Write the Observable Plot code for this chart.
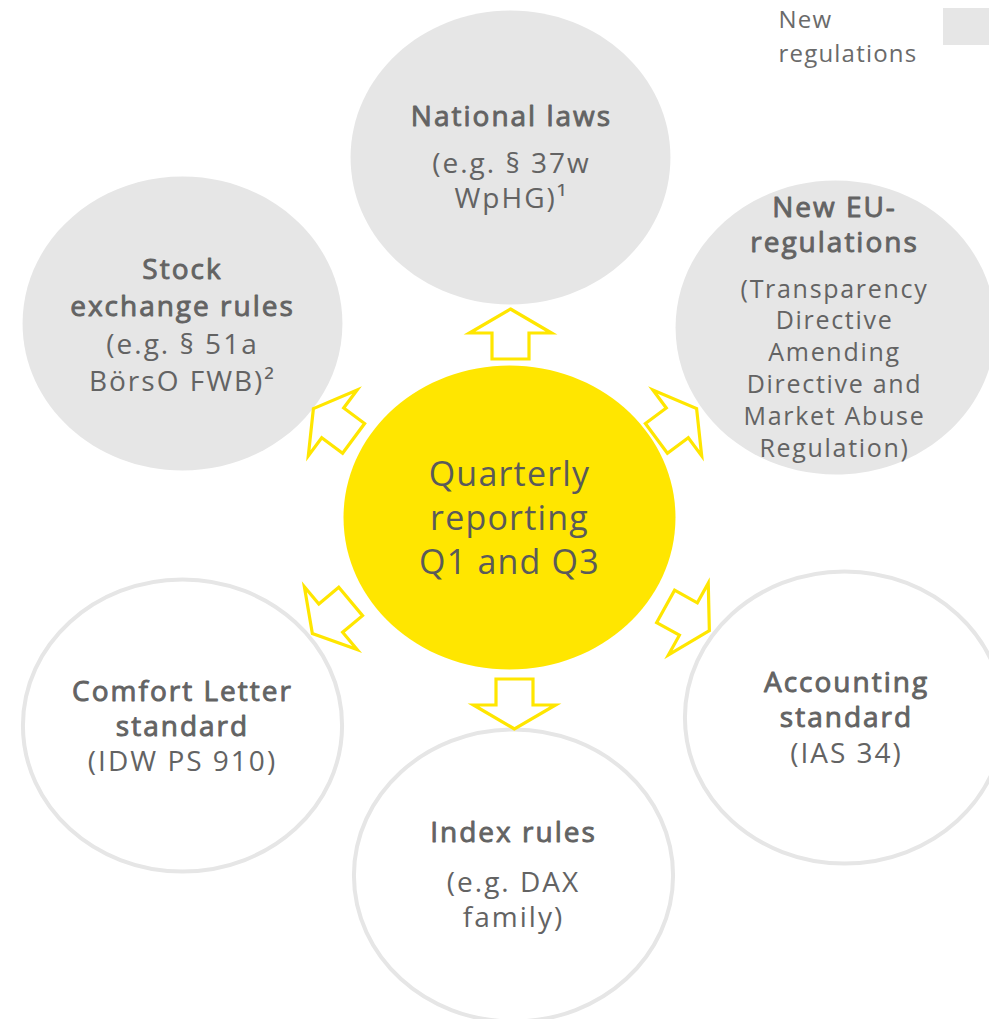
<!DOCTYPE html>
<html><head><meta charset="utf-8">
<script src="https://cdn.jsdelivr.net/npm/d3@7"></script>
<script src="https://cdn.jsdelivr.net/npm/@observablehq/plot@0.6"></script>
<style>
body{margin:0;background:#fff;}
.lbl text{letter-spacing:2px;}
.lbl-sm text{letter-spacing:1.7px;}
.core text{letter-spacing:1.2px;}
.leg text{letter-spacing:1.2px;}
</style>
</head><body><div id="chart"></div>
<script>
// ---- content ----
const nodeNames = ["National laws","Stock exchange rules","New EU-regulations","Quarterly reporting","Comfort Letter standard","Accounting standard","Index rules"];
const nodeKind  = ["new","new","new","core","existing","existing","existing"];
const titles  = ["National laws","Stock\nexchange rules","New EU-\nregulations","Quarterly\nreporting\nQ1 and Q3","Comfort Letter\nstandard","Accounting\nstandard","Index rules"];
const details = ["(e.g. § 37w\nWpHG)¹","(e.g. § 51a\nBörsO FWB)²","(Transparency\nDirective\nAmending\nDirective and\nMarket Abuse\nRegulation)","","(IDW PS 910)","(IAS 34)","(e.g. DAX\nfamily)"];
const legendLabel = "New\nregulations";

// ---- layout (pixel space) ----
const nodeX = [510,182,835,509,182,844,513];
const nodeY = [157,323,327,517,725,717,875];
const textX = [511,182,834,509,182,846,513];
const titleY = [117,288,225.5,519,709,700.5,833];
const titleGap = [35,37.5,35,44,34.5,35,32];
const detailY = [181.5,363.5,368.5,0,762,754,900];
const detailGap = [35,37,31.8,0,33,33,35.5];
const detailSmall = [false,false,true,false,false,false,false];

const arrowX = [510,333,676,331,687,514];
const arrowY = [333.5,423,423,617,618,703.5];
const arrowAngle = [0,-53.5,53.5,-130,119,180];

const W = 989, H = 1019;
const nodes = nodeNames.map((n,i)=>({name:n, kind:nodeKind[i], x:nodeX[i], y:nodeY[i]}));
const arrows = arrowX.map((x,i)=>({x, y:arrowY[i], a:arrowAngle[i]}));

function lines(textArr, yArr, gapArr){
  const out = [];
  textArr.forEach((t,i)=>{
    if(!t) return;
    const ls = t.split("\n");
    ls.forEach((l,j)=>out.push({text:l, x:textX[i], y:yArr[i] + (j-(ls.length-1)/2)*gapArr[i], kind:nodeKind[i], small:detailSmall[i]}));
  });
  return out;
}
const titleLines = lines(titles, titleY, titleGap);
const detailLines = lines(details, detailY, detailGap);

function ellipseSymbol(ratio){
  return {draw(ctx, size){
    const ry = Math.sqrt(size/Math.PI), rx = ry*ratio, k = 0.5523;
    ctx.moveTo(rx,0);
    ctx.bezierCurveTo(rx, ry*k, rx*k, ry, 0, ry);
    ctx.bezierCurveTo(-rx*k, ry, -rx, ry*k, -rx, 0);
    ctx.bezierCurveTo(-rx, -ry*k, -rx*k, -ry, 0, -ry);
    ctx.bezierCurveTo(rx*k, -ry, rx, -ry*k, rx, 0);
    ctx.closePath();
  }};
}
const arrowSymbol = {draw(ctx){
  const L=50, Hh=24, Wd=41, S=18.5, t=-L/2, b=L/2, hb=t+Hh;
  ctx.moveTo(0,t); ctx.lineTo(Wd,hb); ctx.lineTo(S,hb); ctx.lineTo(S,b);
  ctx.lineTo(-S,b); ctx.lineTo(-S,hb); ctx.lineTo(-Wd,hb); ctx.closePath();
}};

const FONT = "Open Sans";
const TXT = "#636363";
const plot = Plot.plot({
  width: W, height: H, margin: 0,
  x: {domain:[0,W], axis:null},
  y: {domain:[0,H], reverse:true, axis:null},
  style: {fontFamily: FONT, background:"#fff"},
  marks: [
    Plot.dot(nodes.filter(d=>d.kind==="new"), {x:"x", y:"y", r:147, symbol: ellipseSymbol(1.088), fill:"#e6e6e6", stroke:"none"}),
    Plot.dot(nodes.filter(d=>d.kind==="existing"), {x:"x", y:"y", r:146, symbol: ellipseSymbol(1.093), fill:"none", stroke:"#e6e6e6", strokeWidth:4}),
    Plot.dot(nodes.filter(d=>d.kind==="core"), {x:"x", y:"y", r:152, symbol: ellipseSymbol(1.092), fill:"#ffe600", stroke:"none"}),
    Plot.dot(arrows, {x:"x", y:"y", rotate:"a", r:10, symbol: arrowSymbol, fill:"#fff", stroke:"#ffe600", strokeWidth:3.2}),
    Plot.text(titleLines.filter(d=>d.kind!=="core"), {x:"x", y:"y", text:"text", fontSize:28, fontWeight:400, fill:TXT, stroke:TXT, strokeWidth:0.9, className:"lbl"}),
    Plot.text(titleLines.filter(d=>d.kind==="core"), {x:"x", y:"y", text:"text", fontSize:34, fontWeight:400, fill:"#5a5a5a", className:"core"}),
    Plot.text(detailLines.filter(d=>!d.small), {x:"x", y:"y", text:"text", fontSize:28, fontWeight:400, fill:TXT, className:"lbl"}),
    Plot.text(detailLines.filter(d=>d.small), {x:"x", y:"y", text:"text", fontSize:25, fontWeight:400, fill:TXT, className:"lbl-sm"}),
    Plot.rect([{x1:943, x2:995, y1:8, y2:45}], {x1:"x1", x2:"x2", y1:"y1", y2:"y2", fill:"#e6e6e6"}),
    Plot.text([legendLabel], {x:778, y:34, text:d=>d, textAnchor:"start", lineHeight:1.4, fontSize:24, fill:"#6a6a6a", className:"leg"})
  ]
});
document.getElementById("chart").appendChild(plot);
</script>
</body></html>
